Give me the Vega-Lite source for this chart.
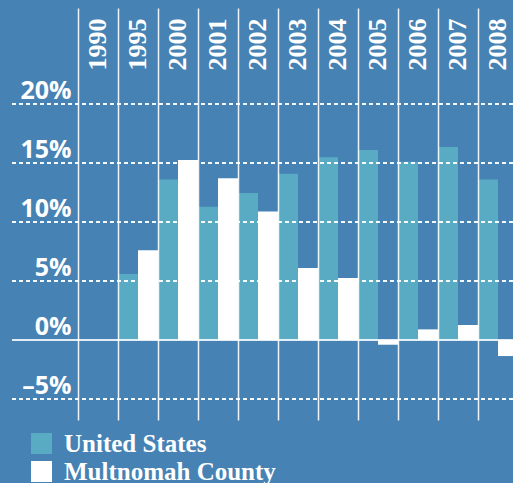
{
  "$schema": "https://vega.github.io/schema/vega-lite/v6.json",
  "width": 501,
  "height": 412,
  "autosize": {"type": "none"},
  "padding": {"left": 12, "top": 8, "right": 0, "bottom": 63},
  "background": "#4682b4",
  "config": {"view": {"stroke": null}},
  "datasets": {
    "growth": [
      {"year": "1995", "series": "United States", "value": 5.6},
      {"year": "1995", "series": "Multnomah County", "value": 7.6},
      {"year": "2000", "series": "United States", "value": 13.6},
      {"year": "2000", "series": "Multnomah County", "value": 15.25},
      {"year": "2001", "series": "United States", "value": 11.3},
      {"year": "2001", "series": "Multnomah County", "value": 13.7},
      {"year": "2002", "series": "United States", "value": 12.45},
      {"year": "2002", "series": "Multnomah County", "value": 10.9},
      {"year": "2003", "series": "United States", "value": 14.1},
      {"year": "2003", "series": "Multnomah County", "value": 6.1},
      {"year": "2004", "series": "United States", "value": 15.5},
      {"year": "2004", "series": "Multnomah County", "value": 5.25},
      {"year": "2005", "series": "United States", "value": 16.1},
      {"year": "2005", "series": "Multnomah County", "value": -0.4},
      {"year": "2006", "series": "United States", "value": 15.1},
      {"year": "2006", "series": "Multnomah County", "value": 0.9},
      {"year": "2007", "series": "United States", "value": 16.35},
      {"year": "2007", "series": "Multnomah County", "value": 1.27},
      {"year": "2008", "series": "United States", "value": 13.6},
      {"year": "2008", "series": "Multnomah County", "value": -1.36}
    ],
    "grid": [
      {"v": -5}, {"v": 5}, {"v": 10}, {"v": 15}, {"v": 20}
    ],
    "zero": [
      {"v": 0}
    ]
  },
  "layer": [
    {
      "data": {"name": "growth"},
      "mark": {"type": "bar"},
      "encoding": {
        "x": {
          "field": "year",
          "type": "nominal",
          "title": null,
          "scale": {
            "domain": ["1990", "1995", "2000", "2001", "2002", "2003", "2004", "2005", "2006", "2007", "2008"],
            "range": [66, 506],
            "paddingInner": 0,
            "paddingOuter": 0
          },
          "axis": {
            "orient": "top",
            "zindex": 1,
            "domain": false,
            "ticks": false,
            "tickSize": 0,
            "grid": true,
            "bandPosition": 0,
            "gridColor": "#ffffff",
            "gridOpacity": 0.9,
            "gridWidth": 1.5,
            "labelAngle": -90,
            "labelAlign": "right",
            "labelBaseline": "middle",
            "labelPadding": -10,
            "labelFont": "Liberation Serif",
            "labelFontWeight": "bold",
            "labelFontSize": 26,
            "labelColor": "#ffffff",
            "labelOverlap": false,
            "labelFlush": false
          }
        },
        "xOffset": {
          "field": "series",
          "scale": {"domain": ["United States", "Multnomah County"], "paddingInner": 0, "paddingOuter": 0}
        },
        "y": {
          "field": "value",
          "type": "quantitative",
          "title": null,
          "scale": {"domain": [-6.78, 28.14], "nice": false, "zero": false},
          "axis": {
            "values": [-5, 0, 5, 10, 15, 20],
            "zindex": 1,
            "domain": false,
            "ticks": false,
            "tickSize": 0,
            "grid": false,
            "labelExpr": "datum.value < 0 ? '–' + abs(datum.value) + '%' : datum.value + '%'",
            "labelAlign": "right",
            "labelBaseline": "alphabetic",
            "labelOffset": -5.5,
            "labelPadding": -59,
            "labelFont": "Open Sans",
            "labelFontWeight": "bold",
            "labelFontSize": 25,
            "labelColor": "#ffffff"
          }
        },
        "color": {
          "field": "series",
          "type": "nominal",
          "scale": {"domain": ["United States", "Multnomah County"], "range": ["#58abc2", "#ffffff"]},
          "legend": {
            "orient": "none",
            "legendX": 17,
            "legendY": 423,
            "direction": "vertical",
            "title": null,
            "padding": 0,
            "symbolType": "square",
            "symbolSize": 441,
            "symbolStrokeWidth": 0,
            "symbolOpacity": 1,
            "labelFont": "Liberation Serif",
            "labelFontWeight": "bold",
            "labelFontSize": 25,
            "labelColor": "#ffffff",
            "labelOffset": 10,
            "rowPadding": 2,
            "labelLimit": 400
          }
        }
      }
    },
    {
      "data": {"name": "grid"},
      "mark": {"type": "rule", "color": "#ffffff", "strokeWidth": 2, "strokeDash": [4, 3], "opacity": 0.95},
      "encoding": {
        "y": {"field": "v", "type": "quantitative"}
      }
    },
    {
      "data": {"name": "zero"},
      "mark": {"type": "rule", "color": "#ffffff", "strokeWidth": 2, "opacity": 0.85},
      "encoding": {
        "y": {"field": "v", "type": "quantitative"}
      }
    }
  ]
}
